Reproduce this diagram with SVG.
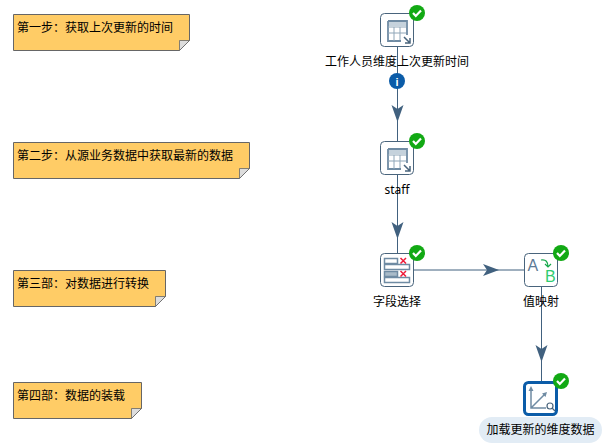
<svg xmlns="http://www.w3.org/2000/svg" width="606" height="447" viewBox="0 0 606 447">
<style>
text{font-family:"Noto Sans CJK SC","Liberation Sans",sans-serif;font-size:12px;fill:#000}
.note{fill:#fc6;stroke:#666;stroke-width:1}
.fold{fill:#ddd;stroke:#666;stroke-width:.8}
.box{fill:#fff;stroke:#49647c;stroke-width:1}
.lbl{text-anchor:middle}
.ic{fill:none;stroke:#8fa6b8;stroke-width:1}
.icb{fill:none;stroke:#6f8ba3;stroke-width:1.800}
.conn{fill:none;stroke:#41617f;stroke-width:1}
.ah{fill:#41617f}
.ok{fill:#12a914}
.tick{fill:none;stroke:#fff;stroke-width:2.2}
</style>
<defs>
<g id="check"><circle r="8" class="ok"/><path class="tick" d="M-4 0L-1.200 3L4 -2.500"/></g>
</defs>
<g id="connectors">
<path class="conn" d="M397.500 46V141M397.500 174V253M414 270H524M541.500 286V381"/>
<path class="ah" d="M391.500 105L397.500 109L403.500 105L397.500 122Z"/>
<path class="ah" d="M391.500 222L397.500 226L403.500 222L397.500 239Z"/>
<path class="ah" d="M483 264L487 270L483 276L499 270Z"/>
<path class="ah" d="M535.500 345L541.500 349L547.500 345L541.500 362Z"/>
</g>
<g id="note1"><path class="note" d="M13.500 14.500H189.500V40.500L179.500 50.500H13.500Z"/><path class="fold" d="M179.500 50.500V40.500H189.500Z"/><text x="17" y="32">第一步：获取上次更新的时间</text></g>
<g id="note2"><path class="note" d="M13.500 142.500H249.500V168.500L239.500 178.500H13.500Z"/><path class="fold" d="M239.500 178.500V168.500H249.500Z"/><text x="17" y="160">第二步：从源业务数据中获取最新的数据</text></g>
<g id="note3"><path class="note" d="M13.500 270.500H165.500V296.500L155.500 306.500H13.500Z"/><path class="fold" d="M155.500 306.500V296.500H165.500Z"/><text x="17" y="288">第三部：对数据进行转换</text></g>
<g id="note4"><path class="note" d="M13.500 382.500H141.500V408.500L131.500 418.500H13.500Z"/><path class="fold" d="M131.500 418.500V408.500H141.500Z"/><text x="17" y="400">第四部：数据的装载</text></g>
<g id="node1">
<rect class="box" x="380.500" y="13.500" width="33" height="33" rx="4"/>
<rect x="388" y="21" width="18" height="5" fill="#c5d2dc"/>
<path class="icb" d="M388 21V41H401M388 21H407V35"/>
<path class="ic" d="M388 27H406M394 27V41M400 27V40M388 33H406"/>
<path fill="none" stroke="#49647c" stroke-width="1.500" d="M404 37L410 43M410 38V43H405"/>
<use href="#check" x="417" y="13"/>
<text class="lbl" x="397" y="66">工作人员维度上次更新时间</text>
<circle cx="397" cy="81" r="8" fill="#0b5ca8"/>
<text x="397" y="85.500" text-anchor="middle" style="font-size:11px;font-weight:700;fill:#fff;font-family:'Liberation Sans',sans-serif">i</text>
</g>
<g id="node2">
<rect class="box" x="380.500" y="141.500" width="33" height="33" rx="4"/>
<rect x="388" y="149" width="18" height="5" fill="#c5d2dc"/>
<path class="icb" d="M388 149V169H401M388 149H407V163"/>
<path class="ic" d="M388 155H406M394 155V169M400 155V168M388 161H406"/>
<path fill="none" stroke="#49647c" stroke-width="1.500" d="M404 165L410 171M410 166V171H405"/>
<use href="#check" x="417" y="141"/>
<text class="lbl" x="397" y="194" style="font-family:'Noto Sans','Liberation Sans',sans-serif">staff</text>
</g>
<g id="node3">
<rect class="box" x="380.500" y="253.500" width="33" height="33" rx="4"/>
<path d="M384.500 258.500H397.500V263.500H384.500ZM384.500 264.500H409.500V269.500H384.500ZM384.500 277.500H409.500V282.500H384.500Z" fill="#fff" stroke="#6f8ba3" stroke-width="1.500"/>
<path d="M384.500 271.500H397.500V276.500H384.500Z" fill="#a9bbc9" stroke="#6f8ba3" stroke-width="1.500"/>
<path fill="none" stroke="#ee1c3a" stroke-width="1.500" d="M400.500 258L406 263.500M406 258L400.500 263.500M400.500 271L406 276.500M406 271L400.500 276.500"/>
<use href="#check" x="417" y="253"/>
<text class="lbl" x="397" y="306">字段选择</text>
</g>
<g id="node4">
<rect class="box" x="524.500" y="253.500" width="33" height="33" rx="4"/>
<text x="527.500" y="271" style="font-size:16px;fill:#5d7b96;font-family:'Liberation Sans',sans-serif">A</text>
<text x="545" y="282" style="font-size:16px;fill:#2ecc71;font-family:'Liberation Sans',sans-serif">B</text>
<path fill="none" stroke="#15a84a" stroke-width="1.200" d="M541 260C546 259 548 262 548 267M545 264L548 267L551 264"/>
<use href="#check" x="561" y="253"/>
<text class="lbl" x="541" y="306">值映射</text>
</g>
<g id="node5">
<rect x="524.500" y="382.500" width="32" height="32" rx="4" fill="#fff" stroke="#0b5ca8" stroke-width="3"/>
<path fill="none" stroke="#6f8ba3" stroke-width="1.500" d="M531 389V408H546M531 408L545 394"/>
<path fill="#6f8ba3" d="M528.500 391L531 386L533.500 391ZM542 393.500L547 392L545.500 397Z"/>
<circle cx="550" cy="406" r="3" fill="none" stroke="#49647c" stroke-width="1.200"/>
<path stroke="#49647c" stroke-width="1.200" d="M552 408L555 411"/>
<use href="#check" x="561" y="381"/>
<rect x="479" y="417" width="123" height="26" rx="13" fill="#e2ecf5"/>
<text class="lbl" x="540.500" y="434">加载更新的维度数据</text>
</g>
</svg>
